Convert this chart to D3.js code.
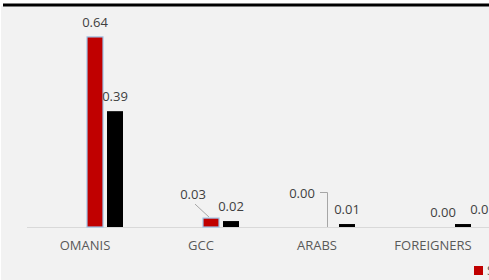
<!DOCTYPE html>
<html>
<head>
<meta charset="utf-8">
<script src="https://cdn.jsdelivr.net/npm/d3@7"></script>
<style>
  html, body { margin: 0; padding: 0; background: #ffffff; overflow: hidden; }
  svg { display: block; font-family: "Open Sans", sans-serif; }
</style>
</head>
<body>
<svg id="chart" width="489" height="280"></svg>
<script>
const svg = d3.select("#chart");

const categories = ["OMANIS", "GCC", "ARABS", "FOREIGNERS"];
const seriesNames = ["S1", "S2", "S3", "S4"];
// first two series carry no values in the picture
const series1 = [null, null, null, null];
const series2 = [null, null, null, null];
const series3 = [0.64, 0.03, 0.00, 0.00];
const series4 = [0.39, 0.02, 0.01, 0.01];
const seriesValues = [series1, series2, series3, series4];
const seriesColors = ["#4472c4", "#a5a5a5", "#c00000", "#000000"];

const BASE = 227;

let xscale = d3.scaleBand()
            .domain(categories)
            .range([27, 491]);

let xinner = d3.scaleBand()
            .domain(seriesNames)
            .range([20, 96])
            .paddingInner(0.2);

let yscale = d3.scaleLinear()
            .domain([0, 0.7])
            .range([BASE, BASE - 0.7 * 297]);

// labels Excel moved by hand: [category, series] -> offset, plus leader type
const labelMoves = {
    "GCC|S3": {dx: -18, dy: -9, leader: "straight"},
    "ARABS|S3": {dx: -25, dy: -19, leader: "elbow"},
    "FOREIGNERS|S4": {dx: 20, dy: 0, leader: null}
};

function main() {
    // background panel + top rule
    svg.append("rect")
        .attr("x", 1).attr("y", 6)
        .attr("width", 488).attr("height", 274)
        .attr("fill", "#f2f2f2");
    svg.append("line")
        .attr("x1", 3).attr("x2", 489)
        .attr("y1", 5).attr("y2", 5)
        .attr("stroke", "#000").attr("stroke-width", 3);

    svg.append("line")
        .attr("x1", 27).attr("x2", 489)
        .attr("y1", BASE + 0.5).attr("y2", BASE + 0.5)
        .attr("stroke", "#d9d9d9").attr("stroke-width", 1);

    drawBars();
    drawLabels();
    drawAxis();
    drawLegend();
}

function barData() {
    const out = [];
    seriesValues.forEach((vals, si) => {
        vals.forEach((v, ci) => {
            if (v === null) return;
            out.push({cat: categories[ci], s: seriesNames[si], value: v, color: seriesColors[si]});
        });
    });
    return out;
}

function drawBars() {
    const data = barData();
    svg.selectAll(".bar").data(data).join("rect")
        .attr("class", "bar")
        .attr("x", d => xscale(d.cat) + xinner(d.s))
        .attr("y", d => yscale(d.value))
        .attr("width", xinner.bandwidth())
        .attr("height", d => BASE - yscale(d.value))
        .attr("fill", d => d.color)
        .attr("stroke", d => d.s === "S3" && d.value > 0 ? "#9dc3e6" : "none")
        .attr("stroke-width", 1.2);
}

function drawLabels() {
    const data = barData();
    const g = svg.append("g");
    data.forEach(d => {
        const cx = xscale(d.cat) + xinner(d.s) + xinner.bandwidth() / 2;
        const top = yscale(d.value);
        const mv = labelMoves[d.cat + "|" + d.s] || {dx: 0, dy: 0, leader: null};
        const lx = cx + mv.dx;
        const ly = top - 10 + mv.dy;
        if (mv.leader === "straight") {
            g.append("line")
                .attr("x1", lx + 2).attr("y1", ly + 5)
                .attr("x2", cx - 2).attr("y2", top - 1)
                .attr("stroke", "#a6a6a6").attr("stroke-width", 1);
        } else if (mv.leader === "elbow") {
            g.append("path")
                .attr("d", `M${lx + 18},${ly - 5.5}H${cx + 0.5}V${BASE}`)
                .attr("fill", "none")
                .attr("stroke", "#a6a6a6").attr("stroke-width", 1);
        }
        g.append("text")
            .attr("x", lx)
            .attr("y", ly)
            .attr("text-anchor", "middle")
            .attr("font-size", 13)
            .attr("fill", "#404040")
            .text(d3.format(".2f")(d.value));
    });
}

function drawAxis() {
    const axis = d3.axisBottom(xscale).tickSize(0).tickPadding(0);
    const ax = svg.append("g")
        .attr("transform", `translate(0,${BASE + 14})`)
        .call(axis);
    ax.select(".domain").remove();
    ax.selectAll("text")
        .attr("font-family", "Open Sans, sans-serif")
        .attr("font-size", 13)
        .attr("fill", "#595959");
}

function drawLegend() {
    svg.append("rect")
        .attr("x", 474).attr("y", 266)
        .attr("width", 9).attr("height", 9)
        .attr("fill", seriesColors[2]);
    svg.append("text")
        .attr("x", 487).attr("y", 275)
        .attr("font-size", 13)
        .attr("fill", "#595959")
        .text(seriesNames[2]);
}

main();
</script>
</body>
</html>
